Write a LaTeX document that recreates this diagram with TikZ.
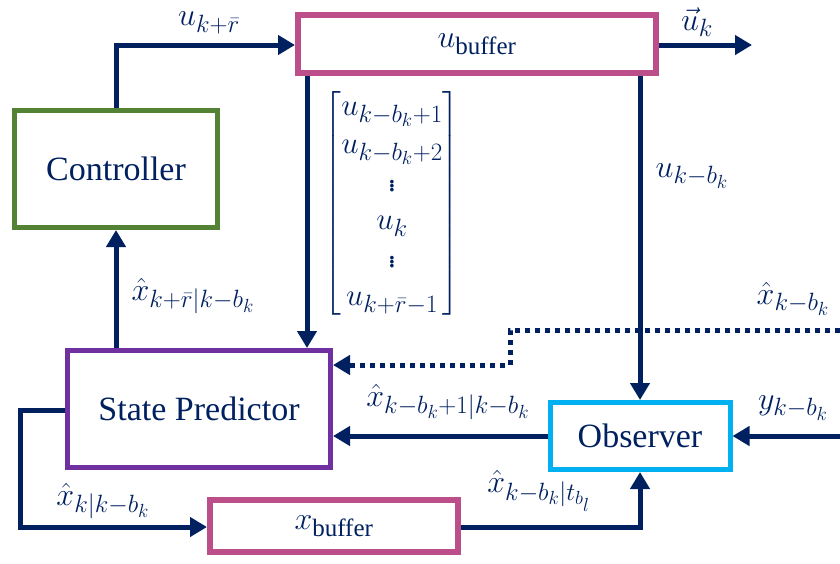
\RequirePackage{fix-cm}
\documentclass[tikz,border=0pt]{standalone}
\usepackage{amsmath}
\usepackage{fontspec}
\setmainfont{Liberation Serif}
\DeclareMathSizes{32}{32}{25}{19}
\DeclareMathSizes{31}{31}{25}{19}
\DeclareMathSizes{34}{32}{25}{19}
\usetikzlibrary{arrows.meta,calc}
\definecolor{navy}{HTML}{002060}
\definecolor{pinkb}{HTML}{BC4E8A}
\definecolor{greenb}{HTML}{548235}
\definecolor{purpleb}{HTML}{7030A0}
\definecolor{cyanb}{HTML}{00B0F0}
\begin{document}
\begin{tikzpicture}[x=1pt,y=-1pt,
  blk/.style={draw,line width=5pt,fill=white,inner sep=0pt,text=navy,font=\fontsize{34}{40}\selectfont},
  bufbox/.style={blk,draw=pinkb,line width=6pt,font=\fontsize{32}{38}\selectfont},
  conn/.style={draw=navy,line width=5pt},
  arr/.style={conn,-{Triangle[length=17pt,width=19pt]}},
  lbl/.style={text=navy,inner sep=0pt,font=\fontsize{32}{38}\selectfont},
  dotl/.style={conn,dash pattern=on 5pt off 5pt}]
\useasboundingbox (0,0) rectangle (840,563);
\node[bufbox,minimum width=358pt,minimum height=58pt] (ub) at (477,44) {$u_{\textrm{buffer}}$};
\node[blk,draw=greenb,minimum width=203pt,minimum height=117pt] (ctl) at (116,169) {Controller};
\node[blk,draw=purpleb,minimum width=263pt,minimum height=117pt] (sp) at (199,409) {State Predictor};
\node[blk,draw=cyanb,minimum width=180pt,minimum height=67pt] (obs) at (640,436) {Observer};
\node[bufbox,minimum width=248pt,minimum height=52pt] (xb) at (334,526) {$x_{\textrm{buffer}}$};
\coordinate (cx1) at (116,45);
\coordinate (cx2) at (307,0);
\coordinate (out) at (752,45);
\coordinate (din) at (840,330);
\coordinate (d1) at (510,330);
\coordinate (d2) at (510,365);
\coordinate (yin) at (840,436);
\coordinate (l1) at (20,410);
\coordinate (l2) at (20,527);
\coordinate (r1) at (640,527);
% connectors
\draw[arr] (ctl.north) |- (ub.west |- cx1);
\draw[arr] (ub.east |- cx1) -- (out);
\draw[arr] (ub.south -| cx2) -- (sp.north -| cx2);
\draw[arr] (ub.south -| obs.north) -- (obs.north);
\draw[arr] (sp.north -| ctl.south) -- (ctl.south);
\draw[dotl,-{Triangle[length=17pt,width=19pt]}] (din) -- (d1) -- (d2) -- (sp.east |- d2);
\draw[arr] (obs.west) -- (sp.east |- obs.west);
\draw[arr] (yin) -- (obs.east);
\draw[arr] (sp.west |- l1) -- (l1) -- (l2) -- (xb.west |- l2);
\draw[arr] (xb.east |- l2) -- (r1) -- (obs.south);
% labels
\node[lbl] (lu) at (209,23) {$u_{k+\bar{r}}$};
\node[lbl] (luk) at (697,22) {$\vec{u}_k$};
\node[lbl] (lukb) at (692,176) {$u_{k-b_k}$};
\node[lbl] (lxd) at (793,299) {$\hat{x}_{k-b_k}$};
\node[lbl] (lyk) at (793,408) {$y_{k-b_k}$};
\node[lbl] (lxo) at (448,402) {$\hat{x}_{k-b_k+1|k-b_k}$};
\node[lbl] (lxc) at (193,296) {$\hat{x}_{k+\bar{r}|k-b_k}$};
\node[lbl] (lxk) at (103,501) {$\hat{x}_{k|k-b_k}$};
\node[lbl] (lxb) at (539,491) {$\hat{x}_{k-b_k|t_{b_l}}$};
\node[lbl,font=\fontsize{31}{38}\selectfont] (mat) at (392,203) {$\begin{bmatrix} u_{k-b_k+1}\\ u_{k-b_k+2}\\ \vdots\\ u_k\\ \vdots\\ u_{k+\bar{r}-1}\end{bmatrix}$};
\end{tikzpicture}
\end{document}
